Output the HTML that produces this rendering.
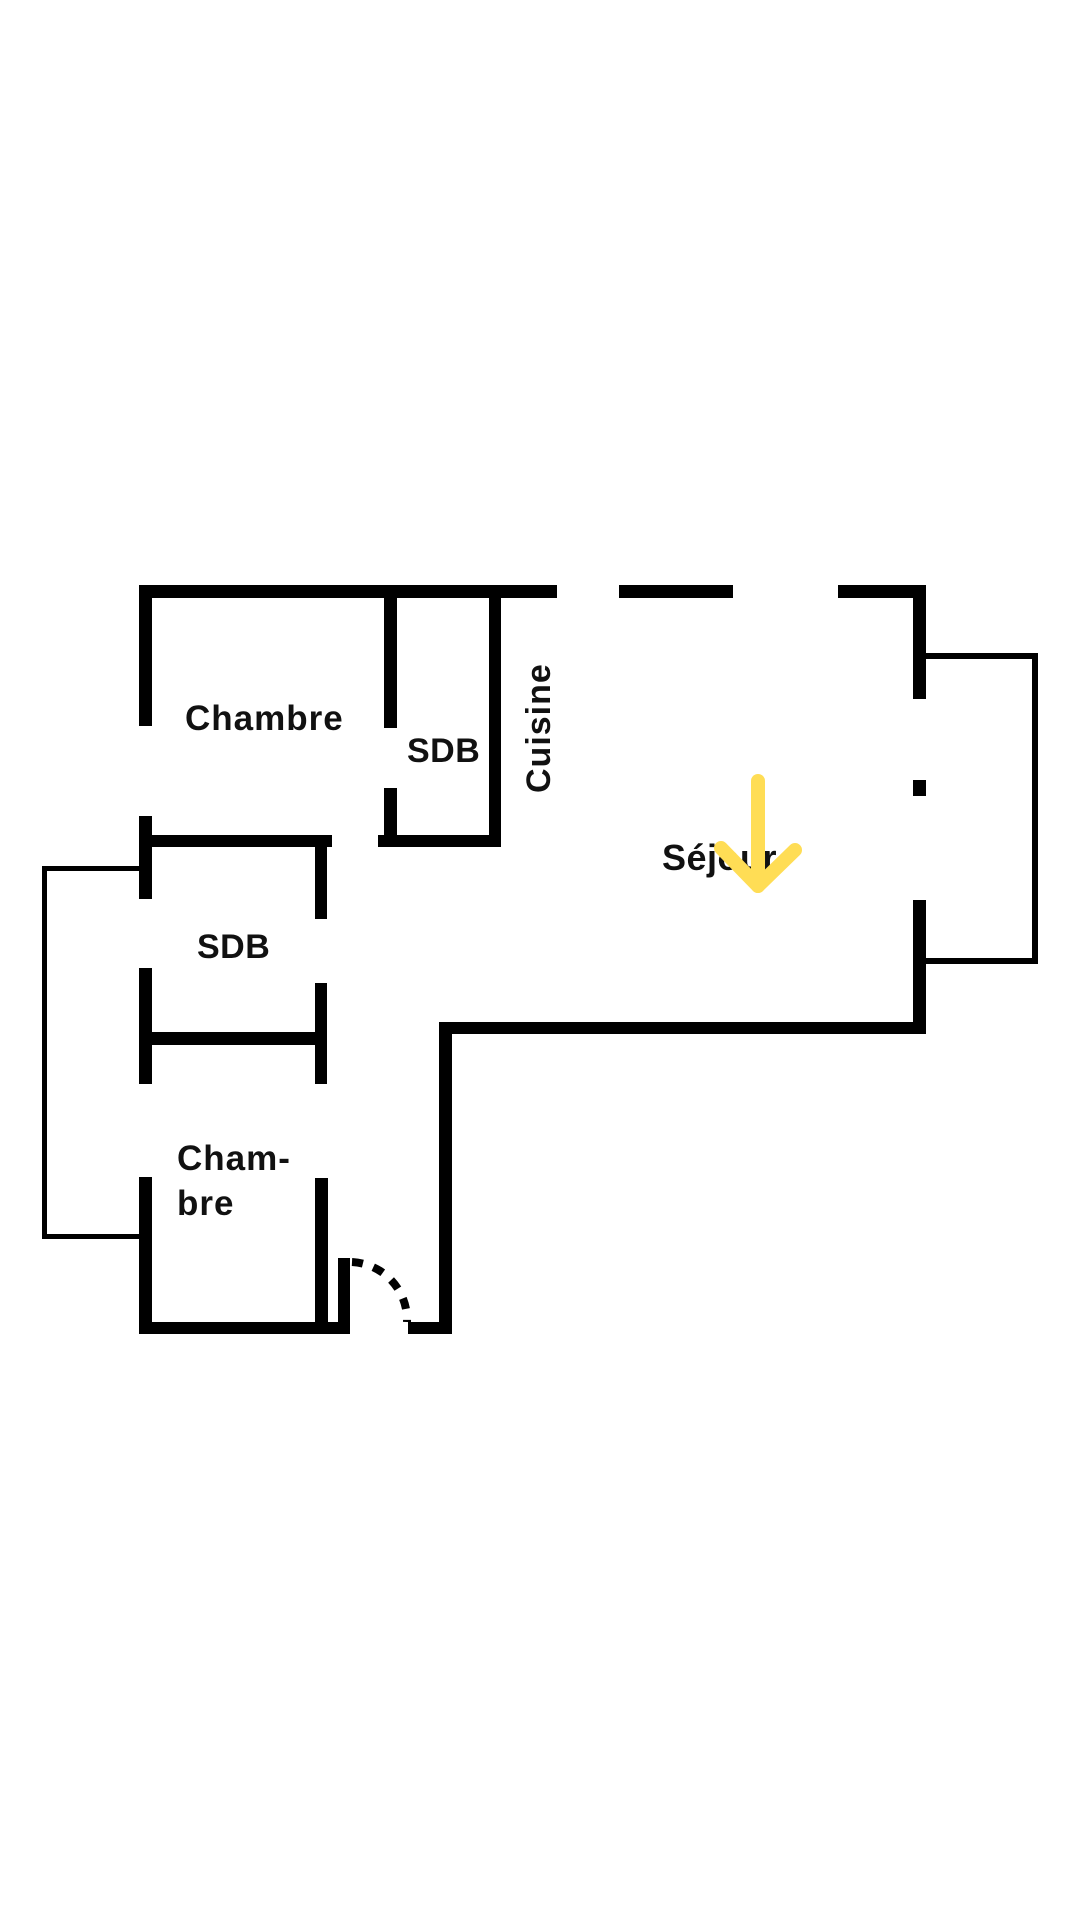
<!DOCTYPE html>
<html><head><meta charset="utf-8"><style>
html,body{margin:0;padding:0;background:#fff;}
svg{display:block;}
text{font-family:"Liberation Sans",sans-serif;font-weight:bold;fill:#111;}
</style></head><body>
<svg width="1080" height="1920" viewBox="0 0 1080 1920" xmlns="http://www.w3.org/2000/svg">
<rect width="1080" height="1920" fill="#fff"/>
<g fill="#000">
<rect x="139" y="585" width="418" height="13"/>
<rect x="619" y="585" width="114" height="13"/>
<rect x="838" y="585" width="88" height="13"/>
<rect x="139" y="585" width="13" height="141"/>
<rect x="384" y="585" width="13" height="143"/>
<rect x="384" y="788" width="13" height="59"/>
<rect x="489" y="585" width="12" height="262"/>
<rect x="378" y="835" width="123" height="12"/>
<rect x="139" y="816" width="13" height="83"/>
<rect x="139" y="835" width="193" height="12"/>
<rect x="315" y="835" width="12" height="84"/>
<rect x="139" y="968" width="13" height="116"/>
<rect x="315" y="983" width="12" height="101"/>
<rect x="139" y="1032" width="188" height="13"/>
<rect x="139" y="1177" width="13" height="157"/>
<rect x="315" y="1178" width="13" height="156"/>
<rect x="139" y="1322" width="211" height="12"/>
<rect x="338" y="1258" width="12" height="76"/>
<rect x="408" y="1322" width="44" height="12"/>
<rect x="439" y="1022" width="13" height="312"/>
<rect x="439" y="1022" width="487" height="12"/>
<rect x="913" y="585" width="13" height="114"/>
<rect x="913" y="780" width="13" height="16"/>
<rect x="913" y="900" width="13" height="134"/>
</g>
<polyline points="139,868.5 44.5,868.5 44.5,1236.5 139,1236.5" fill="none" stroke="#000" stroke-width="5"/>
<polyline points="926,656 1035,656 1035,961 926,961" fill="none" stroke="#000" stroke-width="6"/>
<path d="M352 1262 A58 58 0 0 1 407 1322" fill="none" stroke="#000" stroke-width="8" stroke-dasharray="11 11"/>
<text x="185" y="730" font-size="35" letter-spacing="1">Chambre</text>
<text x="407" y="762" font-size="34" letter-spacing="0.5">SDB</text>
<text transform="translate(550,793) rotate(-90)" font-size="34" letter-spacing="1">Cuisine</text>
<text x="197" y="958" font-size="34" letter-spacing="0.5">SDB</text>
<text x="177" y="1170" font-size="35" letter-spacing="1">Cham-</text>
<text x="177" y="1215" font-size="35" letter-spacing="1">bre</text>
<text x="662" y="870" font-size="36" letter-spacing="0.5">Séjour</text>
<g stroke="#FFDD55" stroke-width="14" stroke-linecap="round" stroke-linejoin="round" fill="none">
<line x1="758" y1="781" x2="758" y2="886"/>
<polyline points="721,848 758,886 795,850"/>
</g>
</svg>
</body></html>
